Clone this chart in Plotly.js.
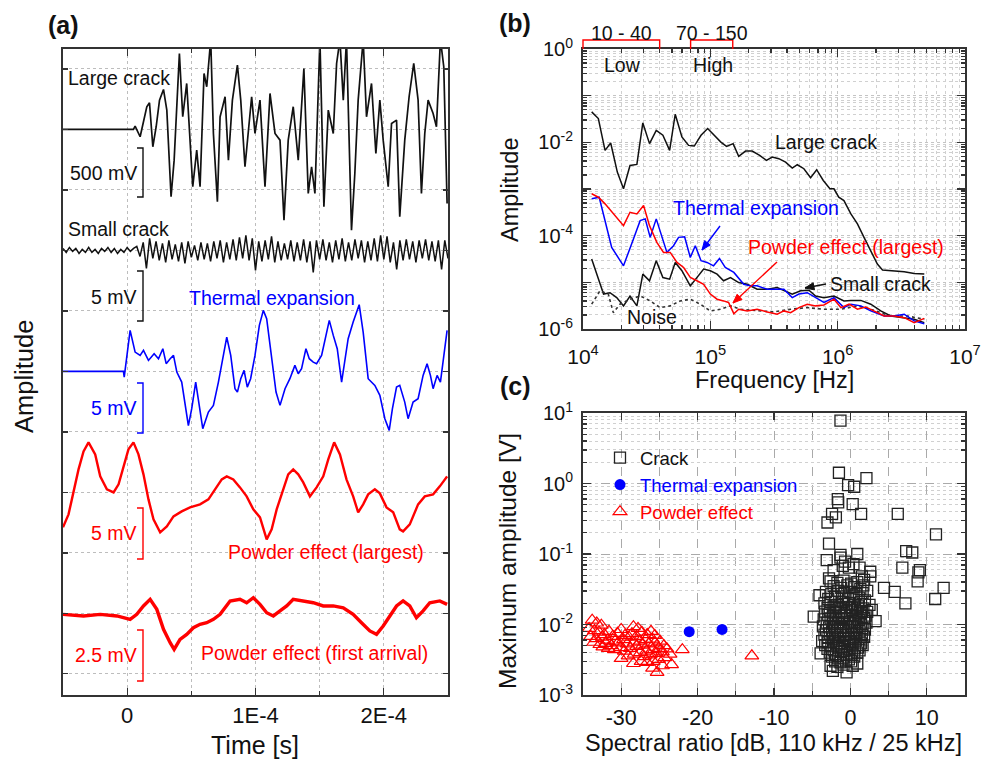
<!DOCTYPE html>
<html><head><meta charset="utf-8">
<script src="https://cdn.plot.ly/plotly-3.0.1.min.js"></script>
<style>html,body{margin:0;padding:0;background:#fff;} #chart{width:985px;height:759px;}</style>
</head><body><div id="chart"></div>
<script>
// ---------------- Panel (a): waveforms (time in microseconds, amplitude in mV) ----------------
const largeCrackT = [-50, 4.9, 6.2, 10.1, 15.3, 17.4, 20.0, 22.6, 25.2, 28.3, 30.9, 34.2, 36.6, 38.7, 40.7, 43.3, 46.4, 51.1, 54.2, 56.8, 59.9, 62.0, 65.1, 67.2, 70.3, 72.4, 76.3, 78.9, 82.0, 85.9, 88.5, 91.8, 94.4, 97.0, 99.6, 103.5, 107.4, 111.3, 115.2, 119.1, 122.2, 125.5, 129.4, 133.3, 137.7, 141.1, 143.7, 146.3, 150.2, 153.3, 156.7, 160.6, 163.2, 165.8, 168.4, 170.9, 174.8, 177.4, 180.0, 183.9, 186.5, 190.4, 193.8, 196.9, 199.5, 203.4, 206.0, 209.9, 212.4, 216.3, 219.7, 223.3, 226.7, 229.3, 231.9, 234.5, 238.4, 241.0, 244.1, 246.7, 249.3];
const largeCrackV = [0, 0, 33, -73, 227, 267, -173, 27, 293, 400, 193, -673, -307, 293, 760, 127, 460, -573, -207, -573, 560, 427, 900, -40, -723, 127, 327, -307, 293, 643, 293, -373, -40, 327, -40, 293, -573, 360, -40, -107, -907, -107, 227, -307, 610, -640, -373, -640, 900, -773, 193, -40, 660, 900, 293, 900, -1007, -440, 293, 900, 127, 460, -240, 293, -107, -573, 60, 93, -873, -107, 327, 660, 293, -640, -40, 293, 160, 27, 900, 627, -740];

const smallCrackT0 = -50, smallCrackDt = 2.5;
const smallCrackV = [0.2,-0.2,0.3,-0.1,0.2,-0.3,0.1,-0.2,0.3,-0.2,0.1,-0.3,0.2,-0.1,0.3,-0.2,0.2,-0.3,0.1,-0.2,0.3,-0.1,0.2,
 0.4,-0.6,0.8,-1.8,1.2,-0.8,0.9,-1.0,0.7,-1.2,1.0,-0.9,0.6,-1.1,0.8,-1.3,0.9,-0.7,0.5,-1.0,0.8,-0.9,0.7,-1.1,0.9,-0.8,1.0,-1.2,0.8,-0.9,1.1,-1.0,1.3,-0.8,1.5,-1.0,1.2,-2.0,
 0.9,-1.1,1.0,-0.9,1.4,-1.2,0.9,-1.0,0.7,-0.9,1.0,-1.1,0.8,-1.0,1.1,-1.2,0.9,-2.2,1.0,-0.9,1.1,-1.0,0.8,-1.2,1.0,-0.9,1.2,-1.1,0.8,-1.0,1.1,-0.8,1.0,-1.2,0.9,-1.0,
 1.2,-1.1,1.5,-0.9,1.4,-1.2,0.8,-1.9,1.0,-1.0,1.1,-0.9,0.9,-1.2,1.0,-0.8,1.1,-1.0,0.9,-1.1,1.0,-1.9,1.0,-0.8];

const thermalT = [-50, -2.9, -2.3, 2.3, 6.2, 10.1, 12.7, 16.6, 21.0, 24.4, 27.8, 30.4, 33.5, 36.1, 38.7, 42.5, 47.7, 50.3, 53.4, 56.8, 58.9, 63.3, 67.2, 71.1, 74.4, 77.6, 80.7, 84.0, 85.9, 88.5, 91.1, 93.6, 96.2, 99.6, 103.0, 106.1, 108.7, 112.6, 116.0, 119.1, 123.0, 126.8, 130.7, 133.3, 135.9, 139.3, 141.9, 145.0, 147.6, 151.5, 154.9, 157.5, 160.6, 163.7, 167.1, 169.6, 172.2, 176.1, 180.8, 183.9, 187.8, 193.0, 196.9, 200.8, 204.2, 206.7, 209.9, 212.4, 216.3, 218.9, 222.8, 226.7, 230.6, 233.7, 236.3, 238.4, 241.5, 244.1, 247.5, 249.3];
const thermalV = [0, 0, -0.57, 4.10, 1.93, 1.60, 2.10, 1.10, 1.77, 1.27, 2.27, 0.77, 1.27, 1.60, -0.07, -1.07, -5.43, -3.73, -1.07, -3.73, -5.73, -4.07, -3.40, -1.07, 1.27, 3.43, 1.60, -1.73, -2.07, -0.73, 0.10, -1.57, -0.73, 1.60, 4.60, 6.10, 5.27, 1.27, -2.07, -3.40, -1.73, -0.73, 0.60, -0.23, 0.27, 2.27, 1.27, 0.93, 0.77, 1.60, 3.60, 5.10, 3.60, 2.27, -1.07, 0.93, 3.27, 4.93, 6.67, 3.93, -0.73, -1.40, -2.40, -4.73, -5.90, -3.73, -1.57, -1.40, -3.07, -4.73, -3.07, -2.73, -0.40, 0.77, -0.40, -1.73, -0.40, -1.07, 2.27, 4.10];

const powderLargestT = [-50, -45.7, -43.1, -37.9, -34.0, -30.1, -24.9, -21.0, -15.8, -10.6, -6.7, -2.9, 1.0, 4.9, 8.8, 12.7, 16.6, 20.5, 25.7, 30.9, 36.1, 42.5, 49.0, 56.8, 63.3, 68.5, 73.7, 77.6, 82.7, 87.9, 93.1, 98.3, 103.5, 108.7, 112.6, 116.5, 121.7, 125.5, 129.4, 133.3, 137.2, 142.4, 147.6, 152.8, 156.7, 161.3, 165.8, 170.9, 176.1, 180.0, 183.9, 187.8, 193.0, 196.9, 202.1, 207.3, 212.4, 215.0, 220.2, 226.7, 231.9, 238.4, 243.6, 249.3];
const powderLargestV = [-3.5, -2.2, -0.7, 2.3, 4.1, 5.0, 3.8, 1.6, 0.3, 0, 0.8, 2.6, 4.3, 5.0, 3.8, 1.8, -0.7, -2.7, -4.0, -3.4, -2.4, -1.9, -1.5, -1.2, -0.7, 0.3, 1.3, 1.6, 1.3, 0.5, -0.4, -1.7, -2.5, -4.7, -3.7, -1.7, 0.3, 1.8, 2.3, 1.8, 1.0, -0.4, 0.5, 1.6, 3.3, 5.0, 3.8, 1.3, -0.4, -2.0, -1.2, -0.2, 0.3, -0.1, -1.5, -2.0, -3.7, -3.9, -3.2, -1.2, -0.4, -0.2, 0.6, 1.6];

const firstArrivalT = [-50, -34.0, -21.0, -8.0, 2.3, 7.5, 12.7, 17.9, 23.1, 28.3, 33.5, 36.6, 41.2, 46.4, 51.6, 56.8, 62.0, 67.2, 72.4, 80.2, 87.9, 93.1, 98.3, 103.5, 108.7, 113.9, 119.1, 124.3, 129.4, 137.2, 145.0, 152.8, 160.6, 168.4, 176.1, 182.6, 189.1, 194.3, 199.5, 204.7, 209.9, 215.0, 220.2, 225.4, 230.6, 235.8, 243.6, 249.3];
const firstArrivalV = [-0.05, -0.13, -0.05, -0.13, -0.30, -0.05, 0.37, 0.70, 0.20, -0.80, -1.47, -1.80, -1.30, -1.05, -0.72, -0.55, -0.47, -0.30, -0.05, 0.62, 0.70, 0.53, 0.78, 0.45, 0.03, -0.13, 0.12, 0.37, 0.70, 0.62, 0.53, 0.37, 0.37, 0.28, -0.05, -0.47, -0.88, -1.05, -0.63, -0.13, 0.37, 0.62, 0.37, -0.22, 0.12, 0.53, 0.62, 0.45];

const timeTickVals = [0, 1e-4, 2e-4];
const timeTickText = ['0', '1E-4', '2E-4'];

// ---------------- Panel (b): spectra ----------------
const freqLC = [1.17e4, 1.32e4, 1.49e4, 1.65e4, 1.86e4, 2.08e4, 2.34e4, 2.65e4, 2.95e4, 3.33e4, 3.76e4, 4.24e4, 4.79e4, 5.30e4, 5.98e4, 6.75e4, 7.48e4, 8.45e4, 9.53e4, 1.075e5, 1.21e5, 1.34e5, 1.51e5, 1.67e5, 1.89e5, 2.13e5, 2.44e5, 2.76e5, 3.06e5, 3.45e5, 3.90e5, 4.40e5, 4.82e5, 5.43e5, 6.13e5, 6.84e5, 7.71e5, 8.69e5, 9.35e5, 1.02e6, 1.12e6, 1.27e6, 1.43e6, 1.61e6, 1.82e6, 2.05e6, 2.25e6, 2.61e6, 3.33e6, 3.99e6, 4.79e6];
const ampLC = [0.0449, 0.0323, 0.00673, 0.00966, 0.0023, 0.00101, 0.0032, 0.00336, 0.026, 0.00938, 0.0181, 0.0142, 0.00673, 0.04, 0.013, 0.00861, 0.00832, 0.0142, 0.0197, 0.0142, 0.0101, 0.0082, 0.00938, 0.005, 0.0065, 0.0065, 0.00525, 0.0041, 0.00483, 0.00446, 0.00377, 0.0028, 0.00331, 0.00272, 0.00174, 0.00259, 0.00152, 0.00101, 0.00101, 6.67e-4, 5.66e-4, 2.93e-4, 1.79e-4, 9.2e-5, 4.75e-5, 2.46e-5, 1.83e-5, 1.77e-5, 1.68e-5, 1.55e-5, 1.5e-5];

const freqTE = [1.17e4, 1.34e4, 1.68e4, 2.08e4, 2.49e4, 2.81e4, 3.08e4, 3.37e4, 3.76e4, 4.17e4, 4.56e4, 5.14e4, 5.63e4, 6.28e4, 6.96e4, 7.62e4, 8.45e4, 9.42e4, 1.06e5, 1.18e5, 1.31e5, 1.53e5, 1.83e5, 2.06e5, 2.33e5, 2.8e5, 3.35e5, 3.78e5, 4.4e5, 4.96e5, 5.77e5, 6.71e5, 7.8e5, 9.35e5, 1.12e6, 1.27e6, 1.52e6, 1.82e6, 2.32e6, 2.77e6, 3.33e6, 3.99e6, 4.79e6];
const ampTE = [6.15e-4, 6.67e-4, 5.6e-5, 2.26e-5, 8.5e-5, 2.1e-4, 2.29e-4, 9.2e-5, 2.29e-4, 9.2e-5, 4.38e-5, 6.1e-5, 9.2e-5, 9.5e-5, 3.41e-5, 6.1e-5, 2.9e-5, 2.67e-5, 2.26e-5, 3.25e-5, 2.08e-5, 1.63e-5, 9.1e-6, 8.4e-6, 8.4e-6, 7.1e-6, 7.1e-6, 7.1e-6, 4.7e-6, 5.6e-6, 6e-6, 4.7e-6, 3.7e-6, 4.7e-6, 2.87e-6, 3.4e-6, 3.13e-6, 2.44e-6, 1.9e-6, 1.9e-6, 2.07e-6, 1.49e-6, 1.3e-6];

const freqPE = [1.17e4, 1.32e4, 1.49e4, 1.73e4, 2.08e4, 2.34e4, 2.65e4, 2.99e4, 3.33e4, 3.8e4, 4.29e4, 4.84e4, 5.47e4, 6.17e4, 6.96e4, 7.85e4, 8.86e4, 1e5, 1.13e5, 1.27e5, 1.39e5, 1.53e5, 1.67e5, 1.95e5, 2.33e5, 2.8e5, 3.35e5, 3.78e5, 4.27e5, 4.96e5, 5.77e5, 6.71e5, 7.8e5, 9.35e5, 1.06e6, 1.23e6, 1.43e6, 1.66e6, 1.93e6, 2.32e6, 2.77e6, 3.33e6, 3.99e6, 4.79e6];
const ampPE = [7.9e-4, 6.67e-4, 4.8e-4, 2.93e-4, 1.64e-4, 3.17e-4, 2.93e-4, 4.42e-4, 1.64e-4, 7.2e-5, 4.38e-5, 4.38e-5, 2.67e-5, 2.08e-5, 1.27e-5, 1.08e-5, 9.1e-6, 5.6e-6, 4.35e-6, 4e-6, 3.7e-6, 2.13e-6, 2.65e-6, 2.44e-6, 2.65e-6, 2.32e-6, 2.07e-6, 2.44e-6, 2.24e-6, 2.87e-6, 3.4e-6, 3.13e-6, 3.28e-6, 4.35e-6, 2.87e-6, 3.4e-6, 2.65e-6, 2.97e-6, 2.44e-6, 1.9e-6, 1.9e-6, 1.75e-6, 1.37e-6, 1.69e-6];

const freqSC = [1.17e4, 1.28e4, 1.45e4, 1.63e4, 1.84e4, 2.08e4, 2.34e4, 2.65e4, 2.95e4, 3.33e4, 3.76e4, 4.24e4, 4.79e4, 5.3e4, 5.98e4, 6.96e4, 7.85e4, 8.86e4, 1e5, 1.13e5, 1.27e5, 1.44e5, 1.67e5, 1.95e5, 2.33e5, 2.8e5, 3.35e5, 3.78e5, 4.4e5, 5.12e5, 5.95e5, 6.71e5, 7.8e5, 9.35e5, 1.12e6, 1.27e6, 1.52e6, 1.82e6, 2.18e6, 2.61e6, 3.33e6, 3.99e6, 4.79e6];
const ampSC = [3.15e-5, 1.5e-5, 5.6e-6, 6e-6, 4.7e-6, 3.13e-6, 5.1e-6, 3.13e-6, 1.5e-5, 1.08e-5, 2.9e-5, 1.27e-5, 1.17e-5, 2.67e-5, 1.77e-5, 8.4e-6, 1.27e-5, 1.92e-5, 1.77e-5, 1.5e-5, 1.08e-5, 1.27e-5, 9.9e-6, 9.1e-6, 7.1e-6, 7.1e-6, 7.7e-6, 6.6e-6, 5.6e-6, 6.6e-6, 6.8e-6, 5.1e-6, 4.7e-6, 5.1e-6, 4e-6, 4.1e-6, 4.1e-6, 3.4e-6, 2.44e-6, 1.9e-6, 1.75e-6, 1.61e-6, 1.37e-6];

const freqN = [1.17e4, 1.36e4, 1.58e4, 1.73e4, 1.95e4, 2.34e4, 2.81e4, 3.37e4, 4.04e4, 4.84e4, 5.81e4, 6.96e4, 8.34e4, 1e5, 1.2e5, 1.44e5, 1.72e5, 2.33e5, 3.15e5, 4.27e5, 5.77e5, 7.8e5, 1.06e6, 1.43e6, 1.93e6, 2.61e6, 3.54e6, 4.79e6];
const ampN = [3.4e-6, 6.6e-6, 5.6e-6, 2.24e-6, 3.4e-6, 4.35e-6, 5.1e-6, 4e-6, 2.87e-6, 3.13e-6, 4e-6, 4.35e-6, 3.4e-6, 2.44e-6, 2.65e-6, 3.13e-6, 2.65e-6, 2.44e-6, 2.32e-6, 2.65e-6, 2.87e-6, 2.65e-6, 2.65e-6, 3.13e-6, 2.52e-6, 1.9e-6, 1.9e-6, 1.61e-6];

const lowBand = [1e4, 4e4], highBand = [7e4, 1.5e5];
const lowBandLabel = '10 - 40', highBandLabel = '70 - 150';
const freqTickVals = [1e4, 1e5, 1e6, 1e7];
const freqTickText = ['10<sup>4</sup>', '10<sup>5</sup>', '10<sup>6</sup>', '10<sup>7</sup>'];
const specTickVals = [1e-6, 1e-5, 1e-4, 1e-3, 1e-2, 1e-1, 1];
const specTickText = ['10<sup>-6</sup>', ' ', '10<sup>-4</sup>', ' ', '10<sup>-2</sup>', ' ', '10<sup>0</sup>'];

// ---------------- Panel (c): scatter ----------------
const crackX = [-1.3,-1.5,2.1,-0.3,0.5,-1.65,-1.6,0.3,-2.4,-1.9,1.4,-3.0,6.2,-2.8,11.2,-1.3,0.9,7.3,8.1,6.8,9.1,8.9,8.8,4.4,5.8,7.2,11.1,12.2,
 -3.1,-1.3,-2.2,-1.0,-0.2,1.2,2.6,2.6,-2.8,1.5,1.7,-4.05,-4.8,3.3,2.8,-0.7,0.4,
 -2.6,-1.7,-0.9,0.1,0.9,1.8, -2.2,-1.2,-0.4,0.5,1.3, -3.2,-2.5,-1.6,-0.8,0.0,0.8,1.6,2.2, -2.9,-2.0,-1.1,-0.3,0.4,1.1,1.9,
 -3.4,-2.6,-1.8,-1.0,-0.2,0.6,1.4,2.5, -3.0,-2.2,-1.4,-0.6,0.2,1.0,1.7, -3.3,-2.7,-1.9,-1.2,-0.5,0.3,0.9,1.5,2.2,
 -2.9,-2.3,-1.5,-0.8,0.0,0.7,1.3,2.0, -3.5,-2.6,-1.9,-1.1,-0.4,0.4,1.1,1.8, -3.1,-2.3,-1.6,-0.9,-0.1,0.6,1.4,2.1,
 -3.6,-2.8,-2.0,-1.3,-0.6,0.2,0.9,1.6, -3.2,-2.4,-1.7,-1.0,-0.3,0.5,1.2,1.9, -3.4,-2.7,-2.0,-1.3,-0.6,0.1,0.8,1.5,
 -3.0,-2.3,-1.6,-0.9,-0.2,0.5,1.2,1.8, -3.7,-2.9,-2.1,-1.4,-0.7,0.0,0.7,1.4, -3.3,-2.5,-1.8,-1.1,-0.4,0.3,1.0,1.6,
 -3.0,-2.2,-1.5,-0.8,-0.1,0.6,1.2, -3.9,-2.7,-1.9,-1.2,-0.5,0.2,0.9, -2.4,-1.6,-0.9,-0.2,0.5, -2.0,-1.3,-0.6,0.1,0.9,
 -2.6,-1.7,-0.9,0.3, -2.3,-0.5];
const crackY = [7.8,1.42,1.19,0.95,0.90,0.60,0.54,0.51,0.37,0.33,0.37,0.28,0.37,0.14,0.19,0.097,0.10,0.11,0.105,0.064,0.059,0.055,0.041,0.033,0.029,0.020,0.023,0.033,
 0.082,0.089,0.059,0.068,0.064,0.064,0.056,0.048,0.045,0.048,0.036,0.026,0.0129,0.0112,0.0161,0.078,0.072,
 0.041,0.039,0.042,0.038,0.040,0.043, 0.035,0.033,0.036,0.034,0.032, 0.029,0.027,0.030,0.028,0.029,0.027,0.028,0.030, 0.023,0.025,0.024,0.023,0.025,0.024,0.022,
 0.020,0.021,0.019,0.021,0.020,0.019,0.021,0.019, 0.0172,0.0180,0.0170,0.0178,0.0173,0.0181,0.0169, 0.0152,0.0158,0.0150,0.0157,0.0153,0.0160,0.0149,0.0156,0.0151,
 0.0137,0.0131,0.0138,0.0133,0.0136,0.0130,0.0139,0.0134, 0.0118,0.0122,0.0117,0.0123,0.0119,0.0121,0.0116,0.0124, 0.0106,0.0103,0.0108,0.0102,0.0107,0.0104,0.0101,0.0106,
 0.0094,0.0091,0.0095,0.0090,0.0093,0.0096,0.0092,0.0089, 0.0083,0.0080,0.0084,0.0081,0.0079,0.0083,0.0080,0.0085, 0.0072,0.0075,0.0071,0.0074,0.0070,0.0073,0.0076,0.0071,
 0.0066,0.0063,0.0067,0.0064,0.0062,0.0066,0.0063,0.0067, 0.0058,0.0056,0.0059,0.0055,0.0058,0.0056,0.0059,0.0054, 0.0051,0.0049,0.0052,0.0048,0.0050,0.0052,0.0047,0.0051,
 0.0045,0.0043,0.0046,0.0042,0.0044,0.0046,0.0043, 0.0039,0.0040,0.0038,0.0041,0.0037,0.0039,0.0040, 0.0035,0.0033,0.0034,0.0032,0.0035, 0.0030,0.0029,0.0031,0.0030,0.0028,
 0.0026,0.0025,0.0027,0.0026, 0.0022,0.0021];

const thermalX = [-21.1, -16.8];
const thermalY = [0.0079, 0.0085];

const powderX = [-33.8,-33.2,-32.6,-34.2,-33.5,-32.9,-32.2,-31.6,-34.0,-33.3,-32.5,-31.8,-31.1,-30.5,-30.0,-29.5,-30.8,-33.6,-32.8,-32.0,-31.3,-30.4,-29.7,-29.0,-28.4,-27.8,-28.6,-28.0,-27.3,-26.6,-26.1,-25.6,-25.9,-26.8,-27.5,-28.3,-29.2,-30.1,-30.9,-31.7,-32.4,-29.6,-28.8,-28.0,-27.2,-26.4,-25.6,-24.9,-24.4,-25.1,-25.9,-26.7,-27.5,-28.3,-29.1,-30.0,-27.0,-26.2,-25.4,-24.6,-24.0,-23.6,-24.3,-25.1,-25.8,-26.6,-27.4,-28.4,-23.4,-24.6,-25.3,-25.9,-22.0,-12.9];
const powderY = [0.0115,0.0105,0.0098,0.0088,0.0082,0.0078,0.0072,0.0080,0.0068,0.0063,0.0066,0.0060,0.0068,0.0075,0.0085,0.0070,0.0058,0.0056,0.0052,0.0054,0.0050,0.0055,0.0061,0.0066,0.0093,0.0088,0.0074,0.0068,0.0078,0.0072,0.0080,0.0070,0.0062,0.0061,0.0058,0.0056,0.0053,0.0047,0.0044,0.0046,0.0048,0.0042,0.0046,0.0049,0.0051,0.0053,0.0055,0.0058,0.0050,0.0046,0.0044,0.0042,0.0040,0.0038,0.0036,0.0033,0.0035,0.0037,0.0039,0.0041,0.0045,0.0038,0.0034,0.0032,0.0030,0.0029,0.0030,0.0028,0.0027,0.0026,0.0021,0.0024,0.0044,0.0036];

const ratioTickVals = [-30, -20, -10, 0, 10];
const ratioTickText = ['-30', '-20', '-10', '0', '10'];
const maxAmpTickVals = [1e-3, 1e-2, 1e-1, 1, 10];
const maxAmpTickText = ['10<sup>-3</sup>', '10<sup>-2</sup>', '10<sup>-1</sup>', '10<sup>0</sup>', '10<sup>1</sup>'];

// ---------------- Layout helpers ----------------
const W = 985, H = 759;
const fx = p => p / W, fy = p => 1 - p / H;
const FONT = 'Liberation Sans, Arial, Helvetica, sans-serif';
const BLUE = '#0000ff', RED = '#ff0000';
const A = {x0: 63, x1: 448, y0: 49, y1: 695};
const B = {x0: 583, x1: 965, y0: 49, y1: 329};
const C = {x0: 583, x1: 965, y0: 413, y1: 695};
const BAR_UNITS = 50 / 60.5; // height of a scale bar in grid units of panel (a)

function stacked(tUs, vMv, level, barMv, color, width) {
  return {x: tUs.map(t => t * 1e-6), y: vMv.map(v => level + v * BAR_UNITS / barMv),
    mode: 'lines', line: {color: color, width: width}, xaxis: 'x', yaxis: 'y',
    showlegend: false, hoverinfo: 'skip'};
}
const smallCrackT = smallCrackV.map((_, i) => smallCrackT0 + i * smallCrackDt);

const traces = [
  stacked(largeCrackT, largeCrackV, 9, 500, '#111', 1.7),
  stacked(smallCrackT, smallCrackV, 7, 5, '#111', 1.5),
  stacked(thermalT, thermalV, 5, 5, BLUE, 1.6),
  stacked(powderLargestT, powderLargestV, 3, 5, RED, 2.4),
  stacked(firstArrivalT, firstArrivalV, 1, 2.5, RED, 3.4),
  {x: freqLC, y: ampLC, mode: 'lines', line: {color: '#111', width: 1.5}, xaxis: 'x2', yaxis: 'y2', showlegend: false},
  {x: freqSC, y: ampSC, mode: 'lines', line: {color: '#111', width: 1.5}, xaxis: 'x2', yaxis: 'y2', showlegend: false},
  {x: freqN, y: ampN, mode: 'lines', line: {color: '#333', width: 1.6, dash: 'dot'}, xaxis: 'x2', yaxis: 'y2', showlegend: false},
  {x: freqTE, y: ampTE, mode: 'lines', line: {color: BLUE, width: 1.5}, xaxis: 'x2', yaxis: 'y2', showlegend: false},
  {x: freqPE, y: ampPE, mode: 'lines', line: {color: RED, width: 1.5}, xaxis: 'x2', yaxis: 'y2', showlegend: false},
  {x: crackX, y: crackY, mode: 'markers', name: 'Crack', xaxis: 'x3', yaxis: 'y3',
    marker: {symbol: 'square-open', size: 11, color: '#222', line: {width: 1.3}}},
  {x: thermalX, y: thermalY, mode: 'markers', name: '<span style="color:#0000ff">Thermal expansion</span>', xaxis: 'x3', yaxis: 'y3',
    marker: {symbol: 'circle', size: 11, color: BLUE}},
  {x: powderX, y: powderY, mode: 'markers', name: '<span style="color:#ff0000">Powder effect</span>', xaxis: 'x3', yaxis: 'y3',
    marker: {symbol: 'triangle-up-open', size: 12, color: RED, line: {width: 1.2}}}
];

const axLine = {showline: true, linecolor: '#333', linewidth: 2, mirror: 'allticks', ticks: 'inside', tickcolor: '#333', tickwidth: 1.3, zeroline: false};

const layout = {
  width: W, height: H, margin: {l: 0, r: 0, t: 0, b: 0}, paper_bgcolor: '#fff', plot_bgcolor: '#fff',
  font: {family: FONT, color: '#111', size: 18}, showlegend: true,
  legend: {x: fx(600), y: fy(439), xanchor: 'left', yanchor: 'top', bgcolor: 'rgba(0,0,0,0)', font: {size: 18.5, color: '#111'}, tracegroupgap: 0, itemwidth: 30},
  xaxis: Object.assign({}, axLine, {domain: [fx(A.x0), fx(A.x1)], anchor: 'y', range: [-5e-5, 2.5e-4],
    tickmode: 'array', tickvals: timeTickVals, ticktext: timeTickText, ticklen: 7, tickfont: {size: 22}, ticklabelstandoff: 0,
    showgrid: true, gridcolor: '#bdbdbd', griddash: 'dot', gridwidth: 1,
    minor: {tickmode: 'linear', tick0: 0, dtick: 5e-5, ticks: 'inside', ticklen: 4, tickcolor: '#333', showgrid: true, gridcolor: '#bdbdbd', griddash: 'dot'}}),
  yaxis: Object.assign({}, axLine, {domain: [fy(A.y1), fy(A.y0)], anchor: 'x', range: [-0.35, 10.33],
    tickmode: 'linear', tick0: 0, dtick: 1, ticklen: 5, showticklabels: false,
    showgrid: true, gridcolor: '#bdbdbd', griddash: 'dot', gridwidth: 1}),
  xaxis2: Object.assign({}, axLine, {domain: [fx(B.x0), fx(B.x1)], anchor: 'y2', type: 'log', range: [4, 7],
    tickmode: 'array', tickvals: freqTickVals, ticktext: freqTickText, ticklen: 8, tickfont: {size: 21}, ticklabelstandoff: 8,
    showgrid: true, gridcolor: '#c4c4c4', griddash: 'dot', gridwidth: 1,
    minor: {dtick: 'D1', ticks: 'inside', ticklen: 4, tickcolor: '#333', showgrid: true, gridcolor: '#d0d0d0', griddash: 'dot'}}),
  yaxis2: Object.assign({}, axLine, {domain: [fy(B.y1), fy(B.y0)], anchor: 'x2', type: 'log', range: [-6, 0],
    tickmode: 'array', tickvals: specTickVals, ticktext: specTickText, ticklen: 8, tickfont: {size: 20}, ticklabelstandoff: 4,
    showgrid: true, gridcolor: '#c4c4c4', griddash: 'dot', gridwidth: 1,
    minor: {dtick: 'D1', ticks: 'inside', ticklen: 4, tickcolor: '#333', showgrid: true, gridcolor: '#d0d0d0', griddash: 'dot'}}),
  xaxis3: Object.assign({}, axLine, {domain: [fx(C.x0), fx(C.x1)], anchor: 'y3', range: [-35, 15],
    tickmode: 'array', tickvals: ratioTickVals, ticktext: ratioTickText, ticklen: 7, tickfont: {size: 21.5}, ticklabelstandoff: 2,
    showgrid: true, gridcolor: '#aaaaaa', griddash: 'dash', gridwidth: 1,
    minor: {tickmode: 'linear', tick0: 0, dtick: 5, ticks: 'inside', ticklen: 4, tickcolor: '#333', showgrid: true, gridcolor: '#aaaaaa', griddash: 'dash'}}),
  yaxis3: Object.assign({}, axLine, {domain: [fy(C.y1), fy(C.y0)], anchor: 'x3', type: 'log', range: [-3, 1],
    tickmode: 'array', tickvals: maxAmpTickVals, ticktext: maxAmpTickText, ticklen: 8, tickfont: {size: 20}, ticklabelstandoff: 4,
    showgrid: true, gridcolor: '#aaaaaa', griddash: 'dash', gridwidth: 1,
    minor: {dtick: 'D1', ticks: 'inside', ticklen: 4, tickcolor: '#333', showgrid: true, gridcolor: '#d0d0d0', griddash: 'dot'}}),
  annotations: [], shapes: []
};

function txt(text, x, y, opts) {
  const o = Object.assign({size: 19.5, color: '#111', xanchor: 'center', yanchor: 'middle', angle: 0, bold: false}, opts || {});
  layout.annotations.push({text: o.bold ? '<b>' + text + '</b>' : text, x: fx(x), y: fy(y), xref: 'paper', yref: 'paper',
    xanchor: o.xanchor, yanchor: o.yanchor, showarrow: false, textangle: o.angle, borderpad: 0,
    font: {family: FONT, size: o.size, color: o.color}});
}
// arrow drawn as a line plus a filled head (shapes)
function arrow(headX, headY, tailX, tailY, color) {
  layout.shapes.push({type: 'line', xref: 'paper', yref: 'paper', x0: fx(tailX), y0: fy(tailY), x1: fx(headX), y1: fy(headY), line: {color: color, width: 1.4}});
  const dx = headX - tailX, dy = headY - tailY, L = Math.hypot(dx, dy), ux = dx / L, uy = dy / L;
  const len = 9, half = 3.6;
  const bx = headX - ux * len, by = headY - uy * len;
  const p1 = [bx - uy * half, by + ux * half], p2 = [bx + uy * half, by - ux * half];
  layout.shapes.push({type: 'path', xref: 'paper', yref: 'paper', fillcolor: color, line: {color: color, width: 1},
    path: `M ${fx(headX)},${fy(headY)} L ${fx(p1[0])},${fy(p1[1])} L ${fx(p2[0])},${fy(p2[1])} Z`});
}
function bar(top, bottom, color) {
  const x1 = fx(137), x2 = fx(143);
  layout.shapes.push({type: 'path', xref: 'paper', yref: 'paper', path: `M ${x1},${fy(top)} L ${x2},${fy(top)} L ${x2},${fy(bottom)} L ${x1},${fy(bottom)}`, line: {color: color, width: 1.4}});
}

// Panel (a) labels
txt('(a)', 63, 25, {size: 25, bold: true});
txt('Large crack', 67, 78, {xanchor: 'left'});
txt('500 mV', 138, 173, {xanchor: 'right'}); bar(148, 197, '#111');
txt('Small crack', 67, 229, {xanchor: 'left'});
txt('5 mV', 138, 297, {xanchor: 'right'}); bar(271, 321, '#111');
txt('Thermal expansion', 188, 298, {xanchor: 'left', color: BLUE});
txt('5 mV', 138, 408, {xanchor: 'right', color: BLUE}); bar(383, 433, BLUE);
txt('5 mV', 138, 533, {xanchor: 'right', color: RED}); bar(508, 559, RED);
txt('Powder effect (largest)', 227, 552, {xanchor: 'left', color: RED});
txt('2.5 mV', 138, 655, {xanchor: 'right', color: RED}); bar(630, 681, RED);
txt('Powder effect (first arrival)', 200, 653, {xanchor: 'left', color: RED});
txt('Time [s]', 255, 745, {size: 25});
txt('Amplitude', 24, 377, {size: 25.5, angle: -90});

// Panel (b) labels
const fpx = f => B.x0 + (Math.log10(f) - 4) / 3 * (B.x1 - B.x0);
function band(r, label) {
  const a = fx(fpx(r[0])), b = fx(fpx(r[1]));
  layout.shapes.push({type: 'path', xref: 'paper', yref: 'paper', path: `M ${a},${fy(49)} L ${a},${fy(40)} L ${b},${fy(40)} L ${b},${fy(49)}`, line: {color: RED, width: 1.4}});
  txt(label, fpx(Math.sqrt(r[0] * r[1])), 33);
}
txt('(b)', 515, 23, {size: 25, bold: true});
band(lowBand, lowBandLabel); band(highBand, highBandLabel);
txt('Low', 622, 65); txt('High', 713, 65);
txt('Large crack', 826, 142);
txt('Thermal expansion', 756, 208, {color: BLUE});
txt('Powder effect (largest)', 846, 247, {color: RED});
txt('Small crack', 880, 284);
txt('Noise', 652, 317);
arrow(702, 250, 720, 226, BLUE);
arrow(733, 303, 777, 262, RED);
arrow(805, 288, 826, 284, '#111');
txt('Amplitude', 510, 190, {size: 23.5, angle: -90});
txt('Frequency [Hz]', 774, 380, {size: 23.5});

// Panel (c) labels
txt('(c)', 515, 386, {size: 25, bold: true});
txt('Maximum amplitude [V]', 507, 561, {size: 24.5, angle: -90});
txt('Spectral ratio [dB, 110 kHz / 25 kHz]', 773, 743, {size: 23.5});

Plotly.newPlot('chart', traces, layout, {displayModeBar: false, staticPlot: true});
</script></body></html>
